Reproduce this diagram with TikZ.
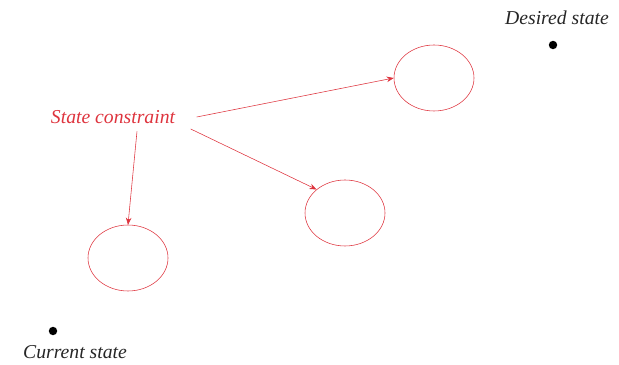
\documentclass[tikz,border=0pt]{standalone}
\usepackage{fontspec}
\setmainfont{Liberation Serif}
\usepackage{xcolor}
\usepackage{tikz}
\usetikzlibrary{positioning, shapes.geometric, arrows.meta, calc}

\definecolor{consred}{RGB}{222,52,62}

\begin{document}
\begin{tikzpicture}[
  >={Stealth[length=5pt,width=4pt]},
  region/.style={draw=consred, ellipse, minimum width=2cm, minimum height=1.65cm},
  statept/.style={circle, fill=black, inner sep=0pt, minimum size=6pt},
  lbl/.style={font=\fontsize{14}{16}\selectfont\itshape, inner sep=1pt},
  arr/.style={->, consred, thin}
]
  \useasboundingbox (0,0) rectangle (15.475,9.125);

  \node[lbl, text=consred] (cons) at (2.825,6.2) {State constraint};

  \node[region] (regA) at (10.85,7.175) {};
  \node[region] (regB) at (8.625,3.8) {};
  \node[region] (regC) at (3.2,2.675) {};

  \node[lbl, text=black!85] (goal) at (13.925,8.675) {Desired state};
  \node[statept] (goalpt) at (13.825,8.0) {};

  \node[lbl, text=black!85] (start) at (1.875,0.325) {Current state};
  \node[statept] (startpt) at (1.325,0.85) {};

  \draw[arr] ($(cons.east)+(0.5,0)$) -- (regA.west);
  \draw[arr] ($(cons.east)+(0.35,-0.3)$) -- (regB.north west);
  \draw[arr] ($(cons.south)+(0.6,-0.15)$) -- (regC.north);
\end{tikzpicture}
\end{document}
